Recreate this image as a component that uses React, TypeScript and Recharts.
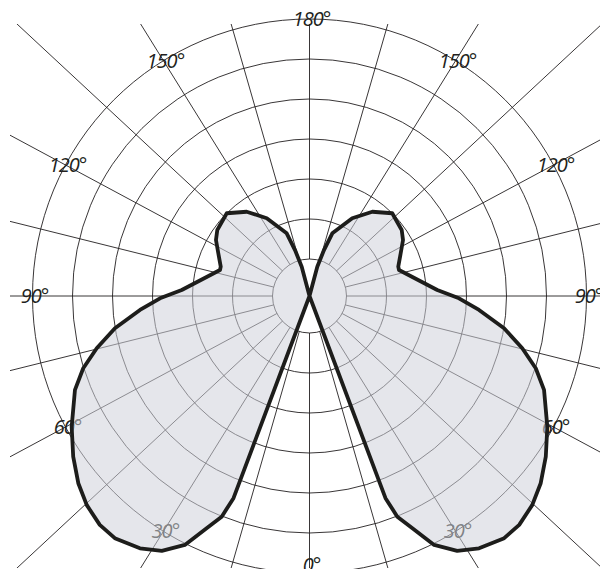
import { RadarChart, Radar, PolarGrid, PolarAngleAxis, PolarRadiusAxis, Customized } from "recharts";

// one lobe: angle from 0° (down) towards 180° (up), intensity
const lobeAngles = [0, 20.6, 21.7, 23.9, 26.6, 30.1, 33.9, 38.8, 42.5, 46.8, 51, 55.8, 61.2, 68.2, 72.3, 76.2, 80.6, 85.3, 89.1, 92.7, 106.2, 108.3, 115.1, 120.9, 125.6, 135, 143.3, 151.2, 160, 162.5, 165.1, 180];
const lobeIntensity = [0, 216, 237.5, 254, 278.4, 294.5, 304, 310.7, 310.4, 305.5, 297.5, 285.7, 271.4, 252.6, 237.5, 219.1, 197.2, 170.1, 149.5, 127.9, 93.2, 93.5, 100.7, 109, 113.4, 117, 105.1, 88.7, 66.7, 48.2, 30.3, 0];

const ringRadii = [37, 77, 117, 157, 197, 237, 277];
const spokeAngles = [0, 15, 30, 45, 60, 75, 90, 105, 120, 135, 150, 165, 180, 195, 210, 225, 240, 255, 270, 285, 300, 315, 330, 345];
const labelAngles = [0, 30, 60, 90, 120, 150, 180, 210, 240, 270, 300, 330];

const W = 608;
const H = 577;
const CX = 309.5;
const CY = 296;
const R_MAX = 320;
const SQUASH = 0.93; // the spokes in the drawing are a little flattened

// left half as read, right half is its mirror image
const data = [
  ...lobeAngles.map((a, i) => ({ angle: a, value: lobeIntensity[i] })),
  ...lobeAngles
    .map((a, i) => ({ angle: 360 - a, value: lobeIntensity[i] }))
    .slice(1, -1)
    .reverse(),
];

function dir(deg: number) {
  const t = (deg * Math.PI) / 180;
  const x = deg <= 180 ? -Math.abs(Math.sin(t)) : Math.abs(Math.sin(t));
  const y = Math.cos(t) * SQUASH;
  const l = Math.hypot(x, y);
  return [x / l, y / l];
}

function Spokes() {
  return (
    <g>
      <defs>
        <clipPath id="spoke-clip">
          <rect x={10} y={24} width={598} height={544} />
        </clipPath>
      </defs>
      <g clipPath="url(#spoke-clip)" stroke="#231f20" strokeWidth={0.9}>
        {spokeAngles.map((a) => {
          const [ux, uy] = dir(a);
          return (
            <line key={a} x1={CX + ux * 37} y1={CY + uy * 37} x2={CX + ux * 520} y2={CY + uy * 520} />
          );
        })}
      </g>
      {labelAngles.map((a) => {
        const [ux, uy] = dir(a);
        // the 0° label sits a bit higher so it stays inside the frame
        const r = a === 0 ? 269 : 277;
        return (
          <text
            key={a}
            x={CX + ux * r + 2}
            y={CY + uy * r + 7}
            textAnchor="middle"
            fontFamily="'Open Sans', sans-serif"
            fontStyle="italic"
            fontSize={20}
            letterSpacing={-1}
            fill="#231f20"
          >
            {`${a <= 180 ? a : 360 - a}°`}
          </text>
        );
      })}
    </g>
  );
}

export default function App() {
  return (
    <div style={{ margin: -8 }}>
      <RadarChart
        width={W}
        height={H}
        data={data}
        cx={CX}
        cy={CY}
        innerRadius={0}
        outerRadius={R_MAX}
        startAngle={-90}
        endAngle={-450}
        margin={{ top: 0, right: 0, bottom: 0, left: 0 }}
      >
        <PolarGrid gridType="circle" radialLines={false} polarRadius={ringRadii} stroke="#231f20" strokeWidth={0.9} />
        <Customized component={<Spokes />} />
        <PolarAngleAxis dataKey="angle" type="number" domain={[0, 360]} tick={false} tickLine={false} axisLine={false} />
        <PolarRadiusAxis domain={[0, R_MAX]} allowDataOverflow tick={false} axisLine={false} />
        <Radar
          dataKey="value"
          stroke="#1d1d1b"
          strokeWidth={3.8}
          strokeLinejoin="round"
          fill="#cfd1da"
          fillOpacity={0.55}
          isAnimationActive={false}
        />
      </RadarChart>
    </div>
  );
}
